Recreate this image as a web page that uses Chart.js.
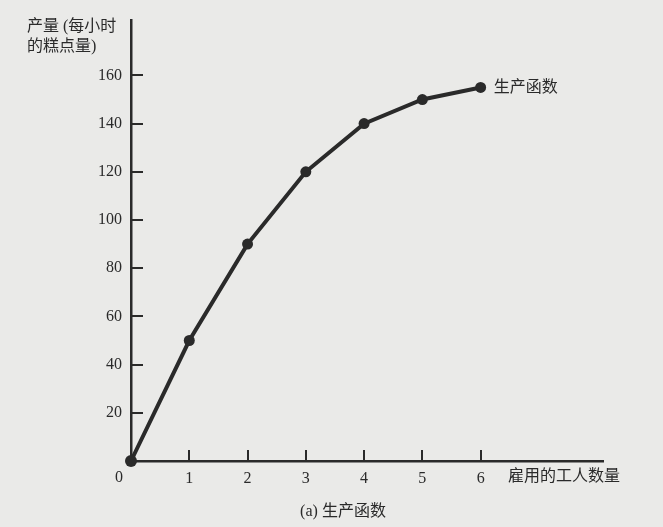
<!DOCTYPE html>
<html>
<head>
<meta charset="utf-8">
<script src="https://cdn.jsdelivr.net/npm/chart.js@4"></script>
<style>
  html, body { margin: 0; padding: 0; background: #eaeae8; }
  #wrap { width: 663px; height: 527px; position: relative; }
</style>
</head>
<body>
<div id="wrap"><canvas id="c" width="663" height="527"></canvas></div>
<script>
// ---- data ----
const workers = [0, 1, 2, 3, 4, 5, 6];
const output = [0, 50, 90, 120, 140, 150, 155];
const xTickValues = [1, 2, 3, 4, 5, 6];
const yTickValues = [20, 40, 60, 80, 100, 120, 140, 160];
const seriesLabel = '生产函数';
const yTitleLines = ['产量 (每小时', '的糕点量)'];
const xTitle = '雇用的工人数量';
const caption = '(a) 生产函数';

const INK = '#2a2a2a';
const LATIN = '"Liberation Serif", "Noto Sans CJK SC", serif';
const MIXED = '"Liberation Serif", "Noto Sans CJK SC", serif';

const decor = {
  id: 'decor',
  beforeDraw(chart) {
    const ctx = chart.ctx;
    ctx.save();
    ctx.fillStyle = '#eaeae8';
    ctx.fillRect(0, 0, chart.width, chart.height);
    ctx.restore();
  },
  afterDatasetsDraw(chart) {
    const ctx = chart.ctx;
    const xs = chart.scales.x, ys = chart.scales.y;
    ctx.save();
    ctx.strokeStyle = INK;
    ctx.lineWidth = 2;
    // inward tick marks
    yTickValues.forEach(v => {
      const py = Math.round(ys.getPixelForValue(v));
      ctx.beginPath();
      ctx.moveTo(xs.left, py);
      ctx.lineTo(xs.left + 12, py);
      ctx.stroke();
    });
    xTickValues.forEach(v => {
      const px = Math.round(xs.getPixelForValue(v));
      ctx.beginPath();
      ctx.moveTo(px, ys.bottom);
      ctx.lineTo(px, ys.bottom - 11);
      ctx.stroke();
    });
    ctx.fillStyle = INK;
    // origin label
    ctx.font = '16px ' + LATIN;
    ctx.textAlign = 'center';
    ctx.textBaseline = 'middle';
    ctx.fillText('0', xs.getPixelForValue(0) - 12, ys.bottom + 17);
    // series label next to last point
    const meta = chart.getDatasetMeta(0);
    const last = meta.data[meta.data.length - 1];
    ctx.font = '16px ' + MIXED;
    ctx.textAlign = 'left';
    ctx.fillText(seriesLabel, last.x + 13, last.y);
    // y title
    ctx.fillText(yTitleLines[0], 27, 27);
    ctx.fillText(yTitleLines[1], 27, 47);
    // x title
    ctx.fillText(xTitle, 508, ys.bottom + 16);
    // caption
    ctx.textAlign = 'center';
    ctx.fillText(caption, 343, 512);
    ctx.restore();
  }
};

new Chart(document.getElementById('c'), {
  type: 'line',
  data: {
    datasets: [{
      label: seriesLabel,
      data: workers.map((w, i) => ({ x: w, y: output[i] })),
      borderColor: INK,
      backgroundColor: INK,
      borderWidth: 4,
      pointRadius: workers.map(w => w === 0 ? 6 : 5.5),
      pointBackgroundColor: INK,
      pointBorderWidth: 0,
      tension: 0,
      clip: false
    }]
  },
  options: {
    responsive: false,
    animation: false,
    devicePixelRatio: 1,
    layout: { padding: { top: 20, right: 60, left: 0, bottom: 0 } },
    plugins: { legend: { display: false }, tooltip: { enabled: false } },
    scales: {
      x: {
        type: 'linear',
        min: 0, max: 8.1,
        afterFit(s) { s.height = 66; },
        grid: { display: true, drawOnChartArea: false, drawTicks: false, color: 'rgba(0,0,0,0)' },
        border: { display: true, color: INK, width: 2.5 },
        ticks: {
          stepSize: 1,
          padding: 8,
          color: INK,
          font: { family: LATIN, size: 16 },
          autoSkip: false,
          maxRotation: 0,
          callback: v => xTickValues.includes(v) ? String(v) : ''
        }
      },
      y: {
        min: 0, max: 183,
        afterFit(s) { s.width = 131; },
        grid: { display: true, drawOnChartArea: false, drawTicks: false, color: 'rgba(0,0,0,0)' },
        border: { display: true, color: INK, width: 2.5 },
        ticks: {
          stepSize: 20,
          padding: 9,
          color: INK,
          font: { family: LATIN, size: 16 },
          autoSkip: false,
          callback: v => yTickValues.includes(v) ? String(v) : ''
        }
      }
    }
  },
  plugins: [decor]
});
</script>
</body>
</html>
